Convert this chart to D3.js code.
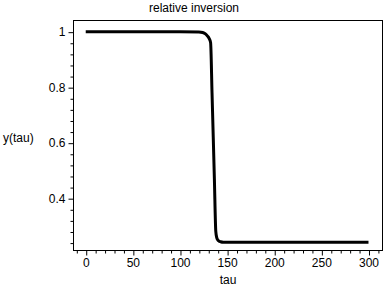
<!DOCTYPE html>
<html>
<head>
  <script src="https://d3js.org/d3.v7.min.js"></script>
  <style>
    body { margin: 0; background: #fff; }
    text { font-family: "Liberation Sans", Arial, sans-serif; font-size: 12px; fill: #000; }
  </style>
</head>
<body>
  <svg id="chart"></svg>
  <script>
    // curve
    const tau = [0, 50, 100, 120, 124, 127, 129, 131, 132.5, 134, 135.3, 136.5, 138, 139, 140, 141.5, 143, 146, 150, 200, 250, 300];
    const yVal = [1, 1, 1, 0.999, 0.997, 0.992, 0.985, 0.975, 0.96, 0.78, 0.62, 0.47, 0.28, 0.258, 0.25, 0.245, 0.243, 0.241, 0.241, 0.241, 0.241, 0.241];

    const xTicks = [0, 50, 100, 150, 200, 250, 300];
    const yTicks = [0.4, 0.6, 0.8, 1];

    const width = 388, height = 288;
    const plotL = 73, plotR = 383, plotT = 20, plotB = 251;

    const svg = d3.select("#chart").attr("width", width).attr("height", height);

    const x = d3.scaleLinear().domain([-13.5, 315.4]).range([plotL, plotR]);
    const y = d3.scaleLinear().domain([0.2097, 1.042]).range([plotB, plotT]);

    // frame
    svg.append("rect")
       .attr("x", plotL + 0.5).attr("y", plotT + 0.5)
       .attr("width", plotR - plotL - 1).attr("height", plotB - plotT - 1)
       .attr("fill", "none").attr("stroke", "#000").attr("stroke-width", 1);

    // x axis: minor ticks every 10
    const xMinor = d3.range(-10, 311, 10).filter(d => d % 50 !== 0);
    const xAxis = svg.append("g").attr("transform", `translate(0,${plotB - 0.5})`);
    xAxis.call(d3.axisBottom(x).tickValues(xMinor).tickSize(3).tickFormat(""));
    xAxis.append("g").call(d3.axisBottom(x).tickValues(xTicks).tickSize(5).tickPadding(3).tickFormat(d3.format("d")));
    xAxis.selectAll(".domain").remove();
    xAxis.selectAll("line").attr("stroke", "#000").attr("transform", "translate(0.5,0)");
    xAxis.selectAll("text").attr("fill", "#000").style("font-size", "12px")
         .style("font-family", '"Liberation Sans", Arial, sans-serif');

    // y axis: minor ticks every 0.04
    const yMinor = d3.range(0.24, 1.001, 0.04).map(d => +d.toFixed(2)).filter(d => Math.abs(d * 5 - Math.round(d * 5)) > 1e-6);
    const yAxis = svg.append("g").attr("transform", `translate(${plotL + 0.5},0)`);
    yAxis.call(d3.axisLeft(y).tickValues(yMinor).tickSize(3).tickFormat(""));
    yAxis.append("g").call(d3.axisLeft(y).tickValues(yTicks).tickSize(5).tickPadding(3).tickFormat(d => d === 1 ? "1" : d3.format(".1f")(d)));
    yAxis.selectAll(".domain").remove();
    yAxis.selectAll("line").attr("stroke", "#000").attr("transform", "translate(0,0.5)");
    yAxis.selectAll("text").attr("fill", "#000").style("font-size", "12px")
         .style("font-family", '"Liberation Sans", Arial, sans-serif');

    // curve
    const line = d3.line()
                   .x((d, i) => x(tau[i]))
                   .y(d => y(d))
                   .curve(d3.curveMonotoneX);
    svg.append("path")
       .datum(yVal)
       .attr("d", line)
       .attr("fill", "none")
       .attr("stroke", "#000")
       .attr("stroke-width", 3)
       .attr("stroke-linejoin", "round");

    // labels
    svg.append("text").attr("x", 194).attr("y", 12).attr("text-anchor", "middle").text("relative inversion");
    svg.append("text").attr("x", 228).attr("y", 284).attr("text-anchor", "middle").text("tau");
    svg.append("text").attr("x", 3).attr("y", 142).text("y(tau)");
  </script>
</body>
</html>
